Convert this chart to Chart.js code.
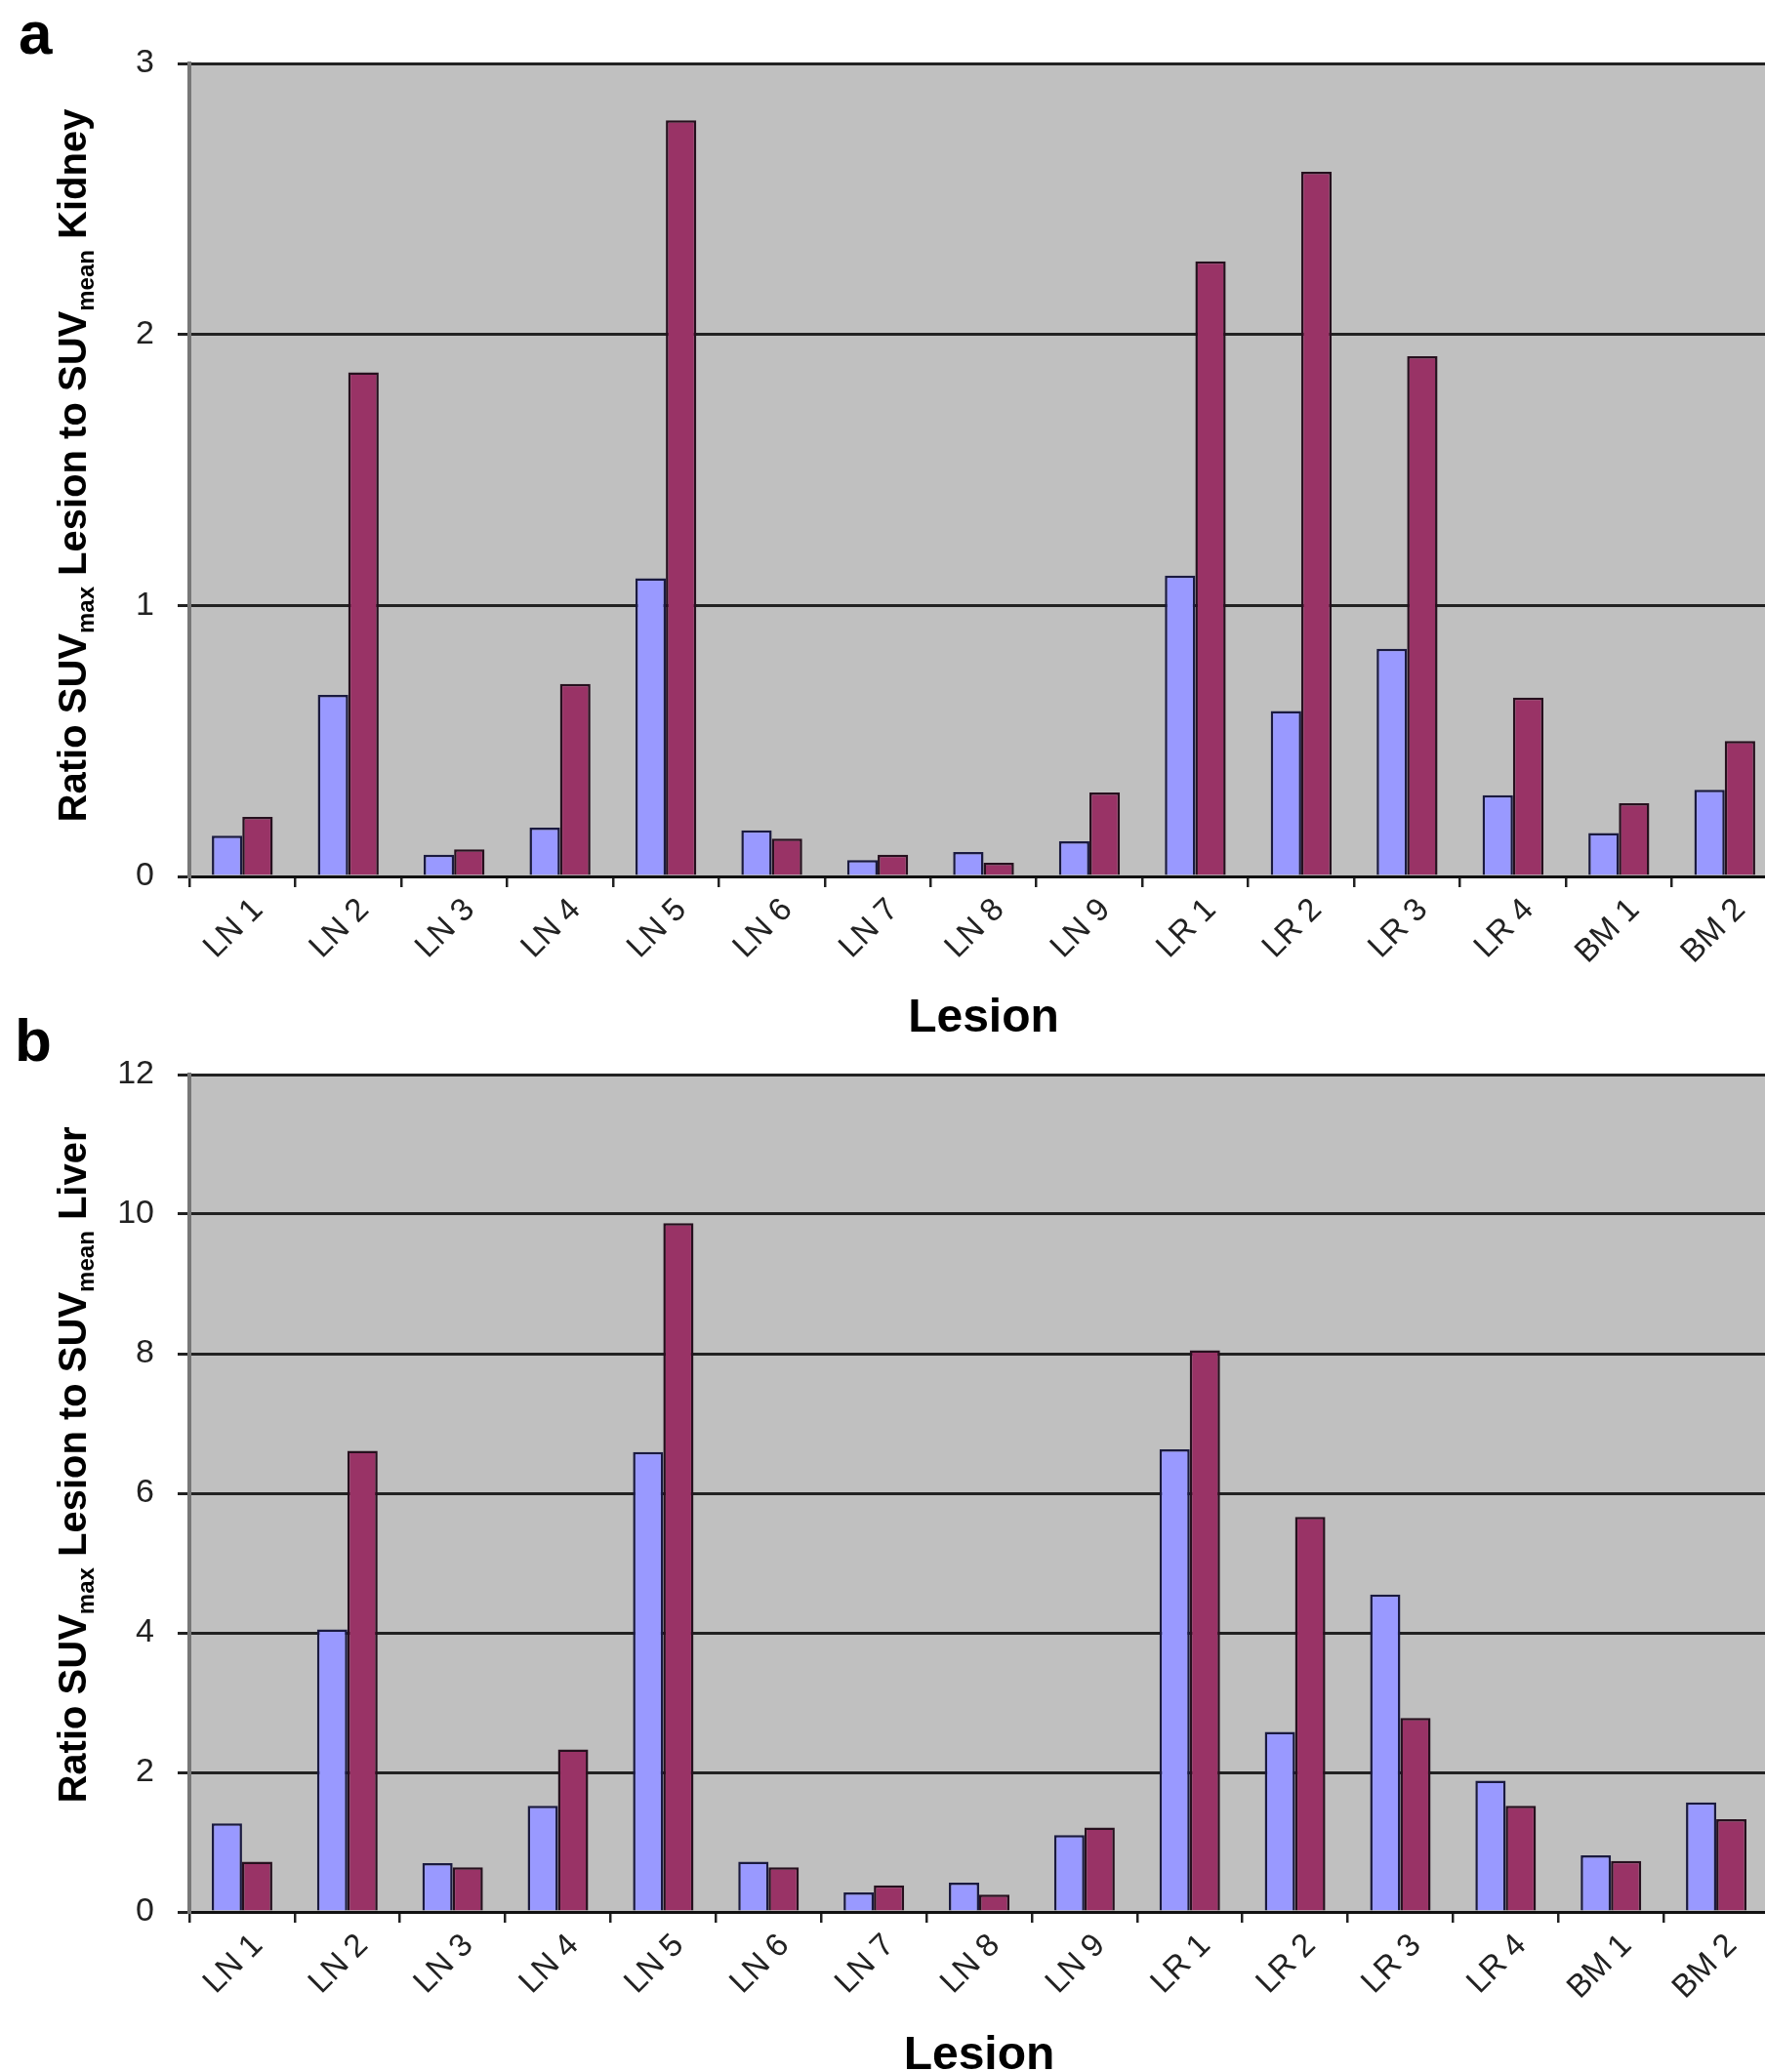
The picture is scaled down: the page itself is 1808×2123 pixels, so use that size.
<!DOCTYPE html>
<html>
<head>
<meta charset="utf-8">
<title>SUV ratios by lesion</title>
<script src="https://cdn.jsdelivr.net/npm/chart.js@4.4.0/dist/chart.umd.min.js"></script>
<style>
  html, body { margin: 0; padding: 0; background: #fff; }
  body { width: 1808px; height: 2123px; overflow: hidden; position: relative; font-family: "Liberation Sans", Arial, sans-serif; }
  .panel { position: absolute; left: 0; }
  .tag { position: absolute; font-weight: bold; font-size: 62px; line-height: 1; color: #000; }
</style>
</head>
<body>
<div class="panel" style="top:0;"><canvas id="chartA" width="1821" height="1065"></canvas></div>
<div class="panel" style="top:1070px;"><canvas id="chartB" width="1812" height="1058"></canvas></div>
<div class="tag" style="left:19px; top:3px;">a</div>
<div class="tag" style="left:15px; top:1035px;">b</div>

<script>
const lesions = ["LN 1", "LN 2", "LN 3", "LN 4", "LN 5", "LN 6", "LN 7", "LN 8", "LN 9",
                 "LR 1", "LR 2", "LR 3", "LR 4", "BM 1", "BM 2"];

// panel a: ratio to kidney
const kidneySeries1 = [0.15, 0.67, 0.08, 0.18, 1.10, 0.17, 0.06, 0.09, 0.13, 1.11, 0.61, 0.84, 0.30, 0.16, 0.32];
const kidneySeries2 = [0.22, 1.86, 0.10, 0.71, 2.79, 0.14, 0.08, 0.05, 0.31, 2.27, 2.60, 1.92, 0.66, 0.27, 0.50];
const kidneyTicks = [0, 1, 2, 3];

// panel b: ratio to liver
const liverSeries1 = [1.27, 4.05, 0.70, 1.52, 6.59, 0.72, 0.28, 0.42, 1.10, 6.63, 2.58, 4.55, 1.88, 0.81, 1.57];
const liverSeries2 = [0.72, 6.61, 0.64, 2.33, 9.87, 0.64, 0.38, 0.25, 1.21, 8.05, 5.66, 2.78, 1.52, 0.73, 1.33];
const liverTicks = [0, 2, 4, 6, 8, 10, 12];

const FONT = "'Liberation Sans', Arial, sans-serif";
const BLUE = "#9999ff";
const PLUM = "#993366";

// grey plot background like the old Excel charts
const plotBg = {
  id: "plotBg",
  beforeDraw(chart) {
    const { ctx, chartArea: a } = chart;
    ctx.save();
    ctx.fillStyle = "#c0c0c0";
    ctx.fillRect(a.left, a.top, a.right - a.left, a.bottom - a.top);
    ctx.restore();
  }
};

// rotated y title with subscripts (SUVmax / SUVmean)
const yTitle = {
  id: "yTitle",
  afterDraw(chart, args, opts) {
    const ctx = chart.ctx;
    const big = "bold 40px " + FONT;
    const small = "bold 24px " + FONT;
    ctx.save();
    ctx.translate(opts.x, opts.y);
    ctx.rotate(-Math.PI / 2);
    ctx.fillStyle = "#000";
    ctx.textBaseline = "alphabetic";
    let total = 0;
    opts.parts.forEach(p => {
      ctx.font = p[1] ? small : big;
      total += ctx.measureText(p[0]).width;
    });
    let cur = -total / 2;
    opts.parts.forEach(p => {
      ctx.font = p[1] ? small : big;
      ctx.fillText(p[0], cur, p[1] ? 22 : 14);
      cur += ctx.measureText(p[0]).width;
    });
    ctx.restore();
  }
};

function makeChart(id, s1, s2, ticks, cfg) {
  const ctx = document.getElementById(id).getContext("2d");
  return new Chart(ctx, {
    type: "bar",
    data: {
      labels: lesions,
      datasets: [
        { label: "Series 1", data: s1, backgroundColor: BLUE, borderColor: "#1a1a40", borderWidth: 2.5 },
        { label: "Series 2", data: s2, backgroundColor: PLUM, borderColor: "#26101e", borderWidth: 2.5 }
      ]
    },
    options: {
      responsive: false,
      animation: false,
      layout: { padding: { top: cfg.top, left: 0, right: 0, bottom: 0 } },
      datasets: { bar: { categoryPercentage: 0.575, barPercentage: 1.0 } },
      plugins: {
        legend: { display: false },
        tooltip: { enabled: false },
        yTitle: { x: 74, y: cfg.titleY, parts: cfg.parts }
      },
      scales: {
        x: {
          grid: { display: true, drawOnChartArea: false, drawTicks: true, tickLength: 11, color: "#222", lineWidth: 2.5, offset: true },
          border: { display: true, color: "#111", width: 3 },
          ticks: {
            autoSkip: false, maxRotation: 45, minRotation: 45, padding: 4, labelOffset: 16,
            color: "#222", font: { family: FONT, size: 33, lineHeight: 1.2 }
          },
          title: { display: true, text: "Lesion", color: "#000", padding: { top: 0, bottom: -8 }, font: { family: FONT, size: 48, weight: "bold", lineHeight: 1.2 } },
          afterFit(scale) {
            scale.height = cfg.xHeight;
            scale.paddingLeft = 0;
            scale.paddingRight = 0;
          }
        },
        y: {
          min: 0,
          max: ticks[ticks.length - 1],
          afterBuildTicks(scale) {
            scale.ticks = ticks.map(v => ({ value: v }));
          },
          grid: { color: "#222", lineWidth: 3, tickLength: 12 },
          border: { display: true, color: "#777", width: 4 },
          ticks: { padding: 24, color: "#222", font: { family: FONT, size: 34, lineHeight: 1.2 } },
          afterFit(scale) {
            scale.width = 194;
            scale.paddingTop = 0;
            scale.paddingBottom = 0;
          }
        }
      }
    },
    plugins: [plotBg, yTitle]
  });
}

makeChart("chartA", kidneySeries1, kidneySeries2, kidneyTicks, {
  top: 65, xHeight: 1065 - 898, titleY: 477,
  parts: [["Ratio SUV", 0], ["max", 1], [" Lesion to SUV", 0], ["mean", 1], [" Kidney", 0]]
});

makeChart("chartB", liverSeries1, liverSeries2, liverTicks, {
  top: 31, xHeight: 1058 - 889, titleY: 431,
  parts: [["Ratio SUV", 0], ["max", 1], [" Lesion to SUV", 0], ["mean", 1], [" Liver", 0]]
});
</script>
</body>
</html>
